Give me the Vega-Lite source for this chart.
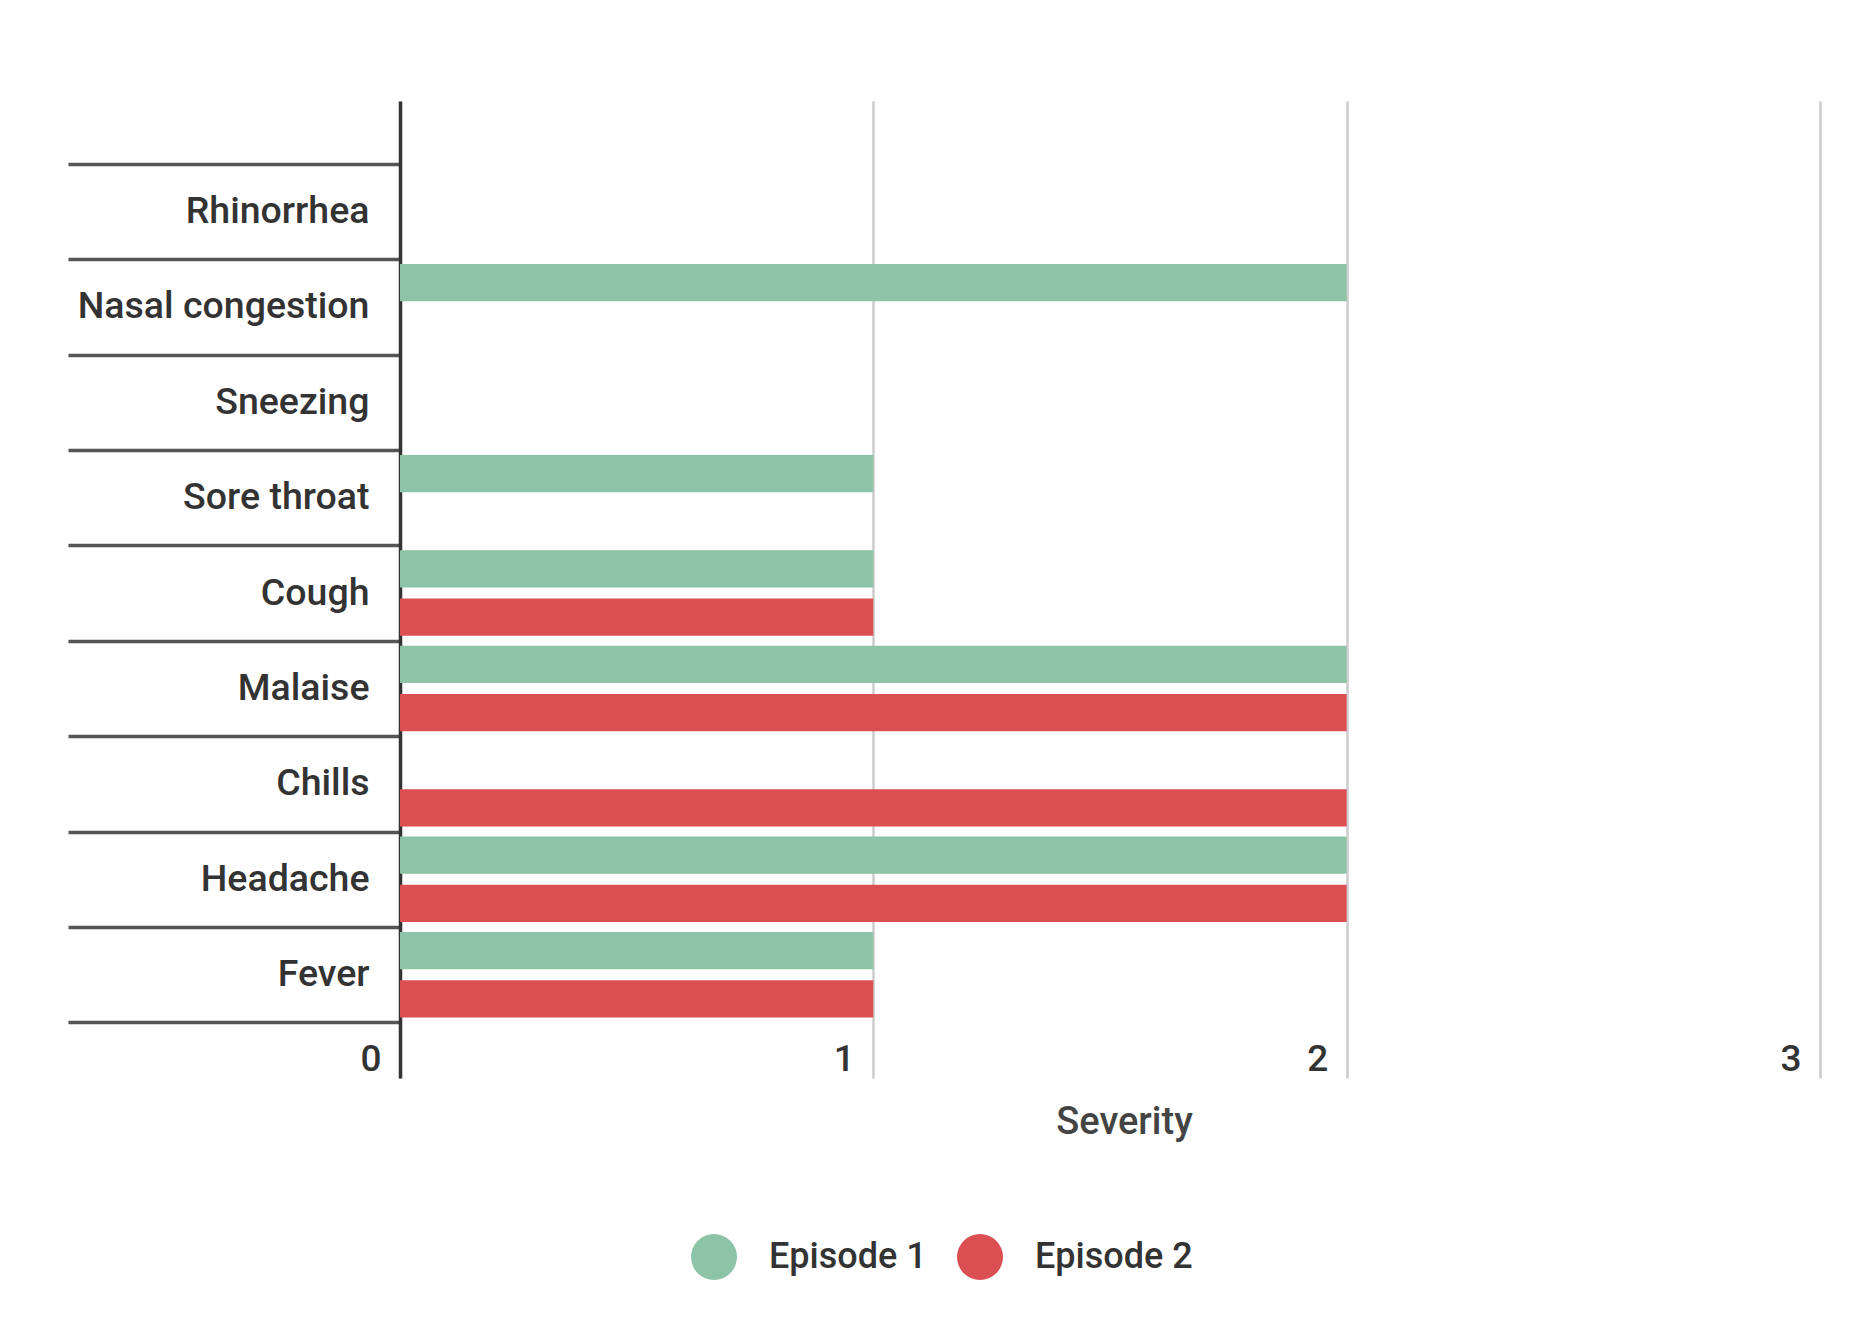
{
  "$schema": "https://vega.github.io/schema/vega-lite/v6.json",
  "autosize": {"type": "none"},
  "width": 1420,
  "height": 977,
  "padding": {"left": 400, "top": 101, "right": 30, "bottom": 242},
  "background": "white",
  "config": {
    "font": "Roboto",
    "view": {"stroke": null}
  },
  "data": {
    "values": [
      {"symptom": "Rhinorrhea", "episode": "Episode 1", "severity": 0},
      {"symptom": "Rhinorrhea", "episode": "Episode 2", "severity": 0},
      {"symptom": "Nasal congestion", "episode": "Episode 1", "severity": 2},
      {"symptom": "Nasal congestion", "episode": "Episode 2", "severity": 0},
      {"symptom": "Sneezing", "episode": "Episode 1", "severity": 0},
      {"symptom": "Sneezing", "episode": "Episode 2", "severity": 0},
      {"symptom": "Sore throat", "episode": "Episode 1", "severity": 1},
      {"symptom": "Sore throat", "episode": "Episode 2", "severity": 0},
      {"symptom": "Cough", "episode": "Episode 1", "severity": 1},
      {"symptom": "Cough", "episode": "Episode 2", "severity": 1},
      {"symptom": "Malaise", "episode": "Episode 1", "severity": 2},
      {"symptom": "Malaise", "episode": "Episode 2", "severity": 2},
      {"symptom": "Chills", "episode": "Episode 1", "severity": 0},
      {"symptom": "Chills", "episode": "Episode 2", "severity": 2},
      {"symptom": "Headache", "episode": "Episode 1", "severity": 2},
      {"symptom": "Headache", "episode": "Episode 2", "severity": 2},
      {"symptom": "Fever", "episode": "Episode 1", "severity": 1},
      {"symptom": "Fever", "episode": "Episode 2", "severity": 1}
    ]
  },
  "mark": {"type": "bar", "cornerRadius": 0},
  "encoding": {
    "y": {
      "field": "symptom",
      "type": "nominal",
      "sort": ["Rhinorrhea", "Nasal congestion", "Sneezing", "Sore throat", "Cough", "Malaise", "Chills", "Headache", "Fever"],
      "scale": {"paddingInner": 0, "paddingOuter": 0.62, "align": 0.53},
      "axis": {
        "title": null,
        "domain": true,
        "domainColor": "#333333",
        "domainWidth": 3.5,
        "ticks": true,
        "tickBand": "extent",
        "tickSize": 332,
        "tickColor": "#555555",
        "tickWidth": 3.5,
        "labelAlign": "right",
        "labelBaseline": "middle",
        "labelPadding": -301,
        "labelLimit": 0,
        "labelFont": "Roboto",
        "labelFontSize": 37.5,
        "labelFontWeight": 500,
        "labelColor": "#333333",
        "grid": false
      }
    },
    "yOffset": {
      "field": "episode",
      "type": "nominal",
      "scale": {"paddingInner": 0.227, "paddingOuter": 0.103}
    },
    "x": {
      "field": "severity",
      "type": "quantitative",
      "scale": {"domain": [0, 3], "nice": false},
      "axis": {
        "values": [0, 1, 2, 3],
        "title": "Severity",
        "titleFont": "Roboto",
        "titleFontSize": 38,
        "titleFontWeight": 500,
        "titleColor": "#444444",
        "titleX": 724,
        "titleY": 55,
        "titleBaseline": "alphabetic",
        "titleAnchor": "middle",
        "titleAlign": "center",
        "domain": false,
        "ticks": false,
        "labelAlign": "right",
        "labelBaseline": "alphabetic",
        "labelPadding": -8,
        "labelOffset": -19,
        "labelFlush": false,
        "labelFont": "Roboto",
        "labelFontSize": 37,
        "labelFontWeight": 500,
        "labelColor": "#333333",
        "grid": true,
        "gridColor": "#cccccc",
        "gridWidth": 2.5
      }
    },
    "color": {
      "field": "episode",
      "type": "nominal",
      "scale": {"domain": ["Episode 1", "Episode 2"], "range": ["#8DC3A6", "#DB4F53"]},
      "legend": {
        "title": null,
        "orient": "none",
        "direction": "horizontal",
        "legendX": 291,
        "legendY": 1133,
        "padding": 0,
        "symbolType": "circle",
        "symbolSize": 2116,
        "symbolStrokeWidth": 0,
        "labelFont": "Roboto",
        "labelFontSize": 36,
        "labelFontWeight": 500,
        "labelColor": "#333333",
        "labelOffset": 32,
        "columnPadding": 30
      }
    }
  }
}
